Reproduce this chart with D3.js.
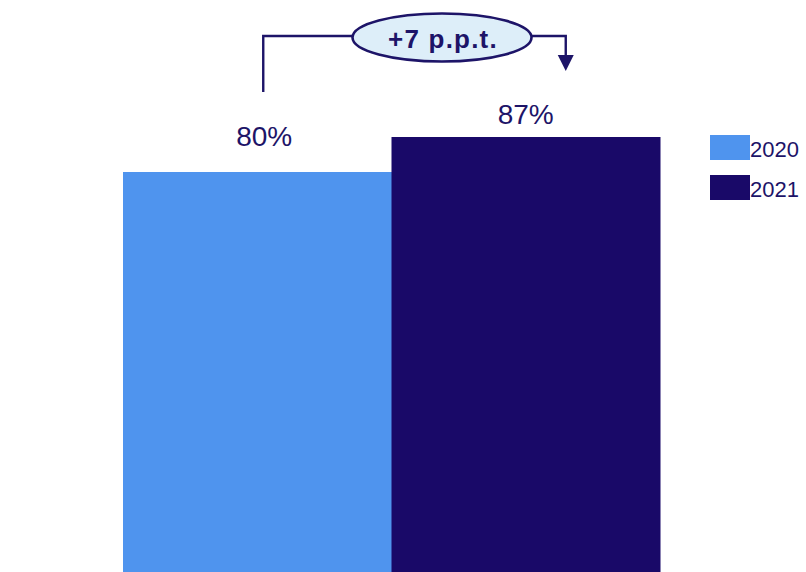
<!DOCTYPE html>
<html>
<head>
<meta charset="utf-8">
<script src="https://cdn.jsdelivr.net/npm/d3@7"></script>
<style>
  html, body { margin: 0; padding: 0; background: #fff; }
  svg { display: block; font-family: Arial, "Liberation Sans", sans-serif; }
</style>
</head>
<body>
<svg id="chart" width="806" height="572"></svg>
<script>
// Share by year
const years = ["2020", "2021"];
const values = [80, 87];
const valueLabels = ["80%", "87%"];
const colors = ["#4f94ee", "#190968"];
const deltaLabel = "+7 p.p.t.";

const svg = d3.select("#chart");
const ink = "#1d1468";

const x = d3.scaleBand().domain(years).range([123, 660]).padding(0);
const y = d3.scaleLinear().domain([0, 100]).range([572, 72]);

// Bars
svg.append("g").selectAll("rect")
  .data(years)
  .join("rect")
  .attr("x", d => x(d))
  .attr("y", (d, i) => y(values[i]))
  .attr("width", x.bandwidth() + 0.5)
  .attr("height", (d, i) => y(0) - y(values[i]))
  .attr("fill", (d, i) => colors[i]);

// Value labels above each bar
const labelDx = [7, 0];
const labelGap = [26, 13];
svg.append("g").selectAll("text")
  .data(years)
  .join("text")
  .attr("x", (d, i) => x(d) + x.bandwidth() / 2 + labelDx[i])
  .attr("y", (d, i) => y(values[i]) - labelGap[i])
  .attr("text-anchor", "middle")
  .attr("font-size", 28)
  .attr("fill", ink)
  .text((d, i) => valueLabels[i]);

// Legend
const legend = svg.append("g").attr("transform", "translate(710,135)");
years.forEach((yr, i) => {
  const g = legend.append("g").attr("transform", `translate(0,${i * 40})`);
  g.append("rect").attr("width", 40).attr("height", 25).attr("fill", colors[i]);
  g.append("text").attr("x", 40).attr("y", 22)
    .attr("font-size", 22).attr("fill", ink).text(yr);
});

// Change bracket between the two bars
const x1 = x(years[0]) + x.bandwidth() / 2 + 6;
const x2 = x(years[1]) + x.bandwidth() / 2 + 40;
const topY = 36;
const cx = 442, cy = 37.5, rx = 89.5, ry = 24;

svg.append("path")
  .attr("d", `M${x1},92 V${topY} H${cx - rx} M${cx + rx},${topY} H${x2} V58`)
  .attr("fill", "none")
  .attr("stroke", ink)
  .attr("stroke-width", 2.4);

svg.append("path")
  .attr("d", `M${x2 - 8},55 L${x2 + 8},55 L${x2},71 Z`)
  .attr("fill", ink);

svg.append("ellipse")
  .attr("cx", cx).attr("cy", cy).attr("rx", rx).attr("ry", ry)
  .attr("fill", "#ddeef9")
  .attr("stroke", ink)
  .attr("stroke-width", 2.6);

svg.append("text")
  .attr("x", cx + 1).attr("y", 48)
  .attr("text-anchor", "middle")
  .attr("font-size", 26)
  .attr("font-weight", "bold")
  .attr("letter-spacing", 1.2)
  .attr("fill", ink)
  .text(deltaLabel);
</script>
</body>
</html>
